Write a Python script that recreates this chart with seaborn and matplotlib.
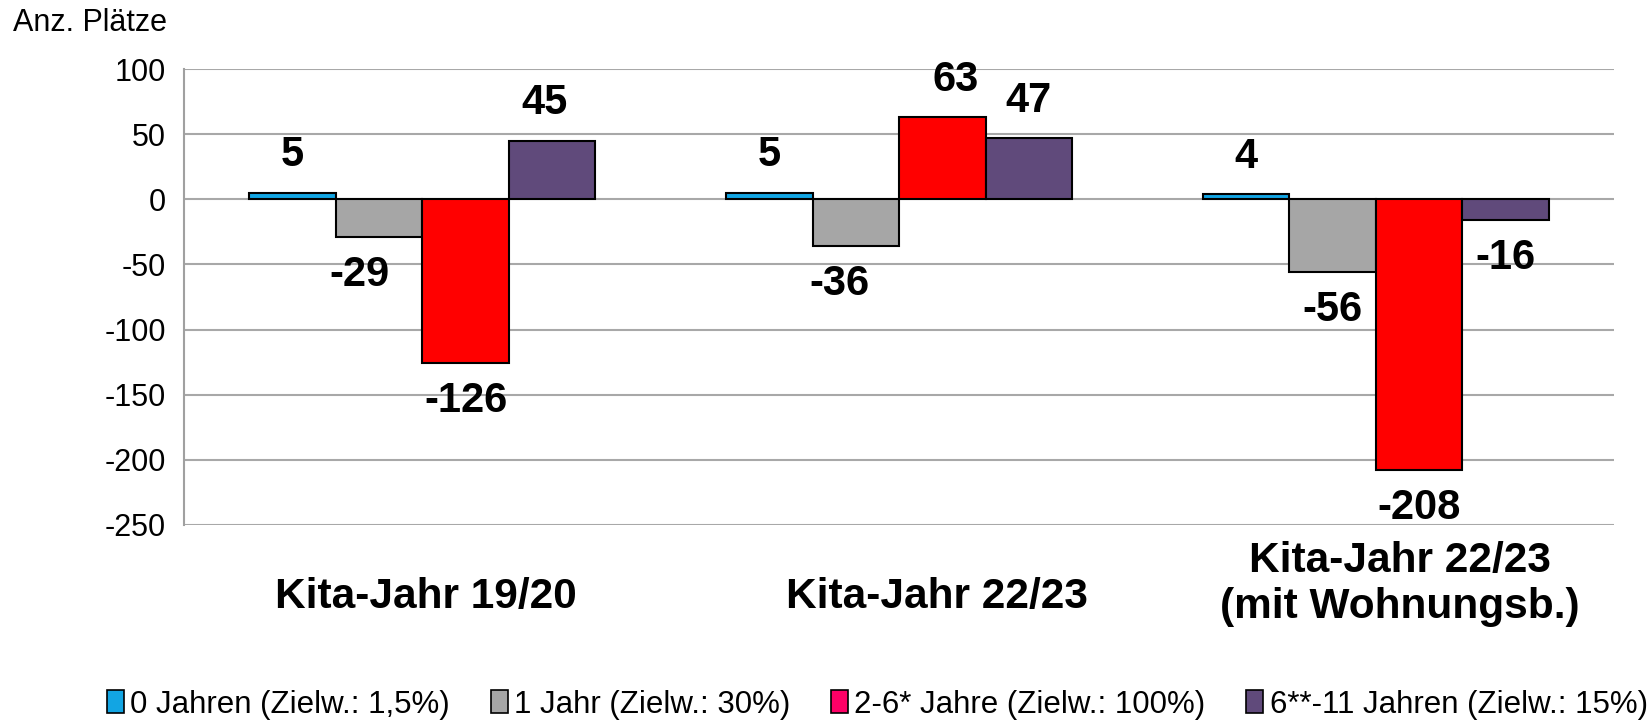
import pandas as pd
import matplotlib.pyplot as plt
import seaborn as sns
from matplotlib.patches import Patch

# data
categories = ["Kita-Jahr 19/20", "Kita-Jahr 22/23", "Kita-Jahr 22/23\n(mit Wohnungsb.)"]
series = ["0 Jahren (Zielw.: 1,5%)", "1 Jahr (Zielw.: 30%)",
          "2-6* Jahre (Zielw.: 100%)", "6**-11 Jahren (Zielw.: 15%)"]
vals_0 = [5, 5, 4]
vals_1 = [-29, -36, -56]
vals_2 = [-126, 63, -208]
vals_6 = [45, 47, -16]

bar_colors = ["#12A5E3", "#A6A6A6", "#FF0000", "#604A7B"]
legend_colors = ["#12A5E3", "#A6A6A6", "#FF0066", "#604A7B"]

rows = []
for s, vals in zip(series, [vals_0, vals_1, vals_2, vals_6]):
    for c, v in zip(categories, vals):
        rows.append({"cat": c, "series": s, "value": v})
df = pd.DataFrame(rows)

sns.set_style("white")
plt.rcParams["font.family"] = ["Liberation Sans", "DejaVu Sans"]
plt.rcParams["axes.unicode_minus"] = False
plt.rcParams["text.color"] = "black"
plt.rcParams["ytick.labelcolor"] = "black"

fig = plt.figure(figsize=(16.49, 7.25), dpi=100)
ax = fig.add_axes([0.1116, 0.2759, 0.8672, 0.6289])

sns.barplot(data=df, x="cat", y="value", hue="series", order=categories,
            hue_order=series, palette=bar_colors, width=0.726,
            edgecolor="black", linewidth=1.5, saturation=1, ax=ax, legend=False)

ax.set_ylim(-250, 100)
ax.set_xlim(-0.5, 2.5)
ax.set_yticks(range(-250, 101, 50))
ax.tick_params(axis="y", labelsize=22, length=8, width=1.5, color="#A0A0A0",
               labelcolor="black", pad=5)
ax.yaxis.grid(True, color="#A8A8A8", linewidth=1.5)
ax.set_axisbelow(True)
for side in ["top", "right", "bottom"]:
    ax.spines[side].set_visible(False)
ax.spines["left"].set_color("#A0A0A0")
ax.spines["left"].set_linewidth(1.5)
ax.set_xlabel("")
ax.set_ylabel("")
ax.set_xticks([])

# category labels below the plot (placed like in the original)
label_dx = [0.007, 0.08, 0.05]
label_y = [-0.157, -0.157, -0.13]
for i, c in enumerate(categories):
    ax.text(i + label_dx[i], label_y[i], c, transform=ax.get_xaxis_transform(),
            ha="center", va="center", fontsize=30.5, fontweight="bold",
            linespacing=1.2, color="black")

# value labels (small manual shifts like in the original)
shift_px = {(1, 0): -20, (1, 1): -16, (2, 1): 13, (3, 0): -8}
for si, cont in enumerate(ax.containers):
    for ci, bar in enumerate(cont):
        v = df[(df.series == series[si]) & (df.cat == categories[ci])].value.iloc[0]
        x = bar.get_x() + bar.get_width() / 2
        dx = shift_px.get((si, ci), 0) * 0.72
        dy = 27 if v >= 0 else -27
        ax.annotate(f"{v}", (x, v), xytext=(dx, dy), textcoords="offset points",
                    ha="center", va="center", fontsize=30, fontweight="bold",
                    color="black")

fig.text(0.0076, 0.968, "Anz. Plätze", fontsize=22, ha="left", va="center",
         color="black")

handles = [Patch(facecolor=col, edgecolor="black", linewidth=1.2) for col in legend_colors]
fig.legend(handles, series, loc="center", bbox_to_anchor=(0.532, 0.028), ncol=4,
           frameon=False, fontsize=22.5, handlelength=0.55, handleheight=0.75,
           handletextpad=0.2, columnspacing=1.3, labelcolor="black")

fig.savefig("out.png", dpi=100)
